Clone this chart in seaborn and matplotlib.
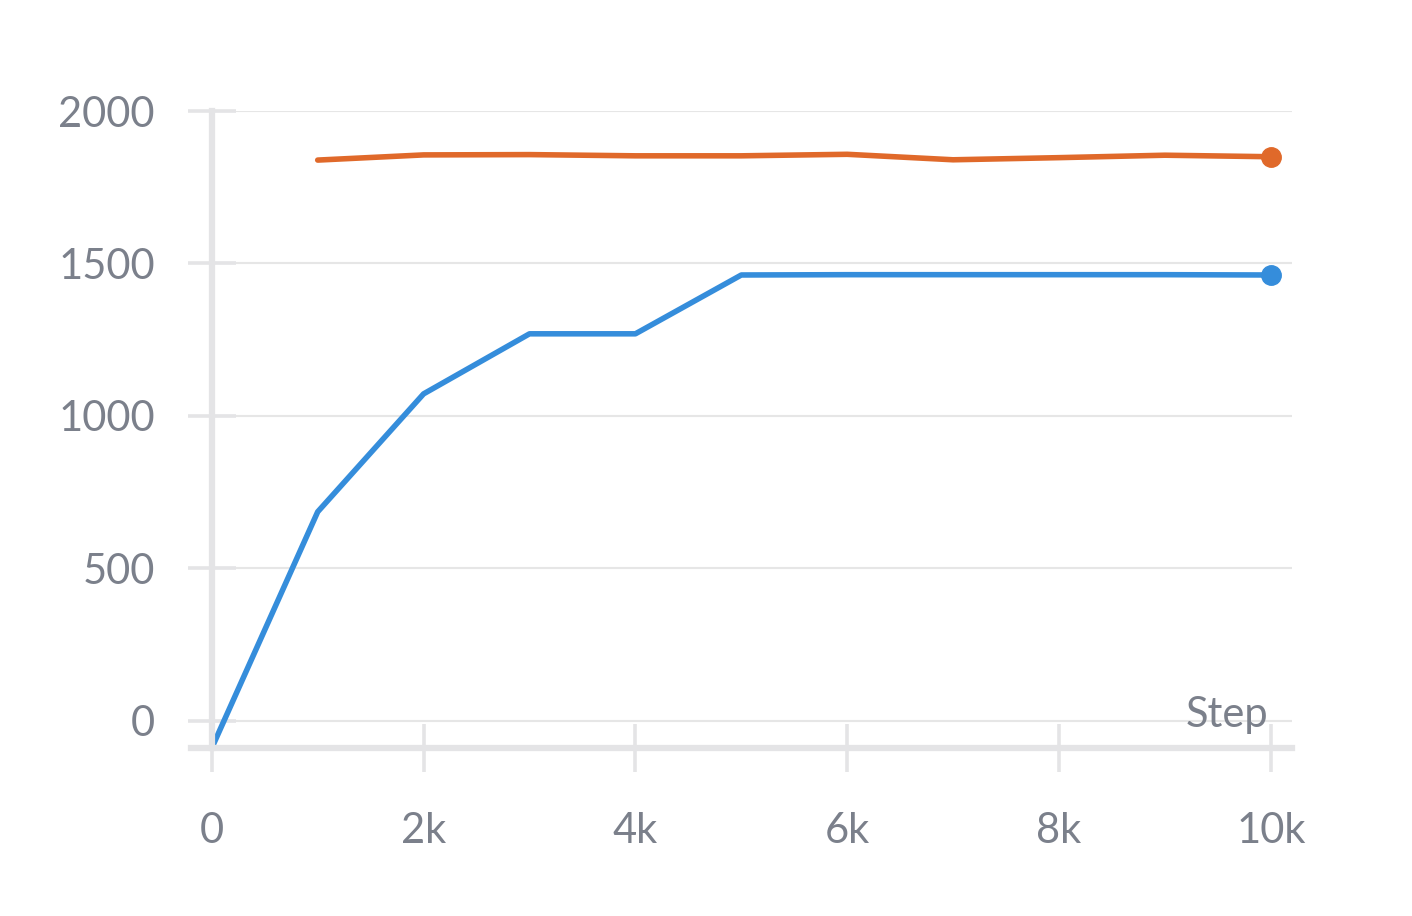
import matplotlib
matplotlib.use('Agg')
import matplotlib.pyplot as plt
import seaborn as sns
import pandas as pd
from matplotlib.ticker import FuncFormatter

# data
blue_steps = [0, 1000, 2000, 3000, 4000, 5000, 6000, 7000, 8000, 9000, 10000]
blue_vals = [-90, 685, 1072, 1269, 1269, 1462, 1463, 1463, 1463, 1463, 1462]
orange_steps = [1000, 2000, 3000, 4000, 5000, 6000, 7000, 8000, 9000, 10000]
orange_vals = [1839, 1856, 1857, 1853, 1853, 1858, 1840, 1847, 1855, 1850]

df = pd.concat([
    pd.DataFrame({'Step': blue_steps, 'value': blue_vals, 'run': 'blue'}),
    pd.DataFrame({'Step': orange_steps, 'value': orange_vals, 'run': 'orange'}),
])
palette = {'blue': '#358ddb', 'orange': '#e0692a'}

sns.set_style('white')
plt.rcParams['font.family'] = ['Lato', 'DejaVu Sans']
text_col = '#7b808b'
axis_col = '#e4e4e6'

fig = plt.figure(figsize=(14.12, 9.16), dpi=100)
ax = fig.add_axes([0.150, 0.1834, 0.765, 0.6954])

sns.lineplot(data=df, x='Step', y='value', hue='run', palette=palette,
             linewidth=4.0, legend=False, ax=ax)

# end-point dots
for name, xs, ys in [('blue', blue_steps, blue_vals), ('orange', orange_steps, orange_vals)]:
    ax.plot(xs[-1], ys[-1], 'o', color=palette[name], markersize=14, zorder=5)

ax.set_xlim(0, 10200)
ax.set_ylim(-90, 2000)
ax.set_xticks([0, 2000, 4000, 6000, 8000, 10000])
ax.set_yticks([0, 500, 1000, 1500, 2000])
ax.xaxis.set_major_formatter(FuncFormatter(lambda v, p: '0' if v == 0 else f'{int(v/1000)}k'))

ax.grid(axis='y', color='#e6e6e6', linewidth=1.5)
ax.grid(axis='x', visible=False)
ax.set_axisbelow(True)

for s in ['top', 'right']:
    ax.spines[s].set_visible(False)
for s in ['left', 'bottom']:
    ax.spines[s].set_color(axis_col)
    ax.spines[s].set_linewidth(4.5)
ax.spines['bottom'].set_bounds(-200, 10200)

ax.tick_params(axis='both', direction='inout', length=34, width=2.6,
               bottom=True, left=True,
               color=axis_col, labelcolor=text_col, labelsize=30)
ax.tick_params(axis='y', pad=24)
ax.tick_params(axis='x', pad=29)

ax.set_xlabel('')
ax.set_ylabel('')
ax.text(9980, -22, 'Step', ha='right', va='baseline', fontsize=30, color=text_col)

fig.savefig('out.png', dpi=100)
